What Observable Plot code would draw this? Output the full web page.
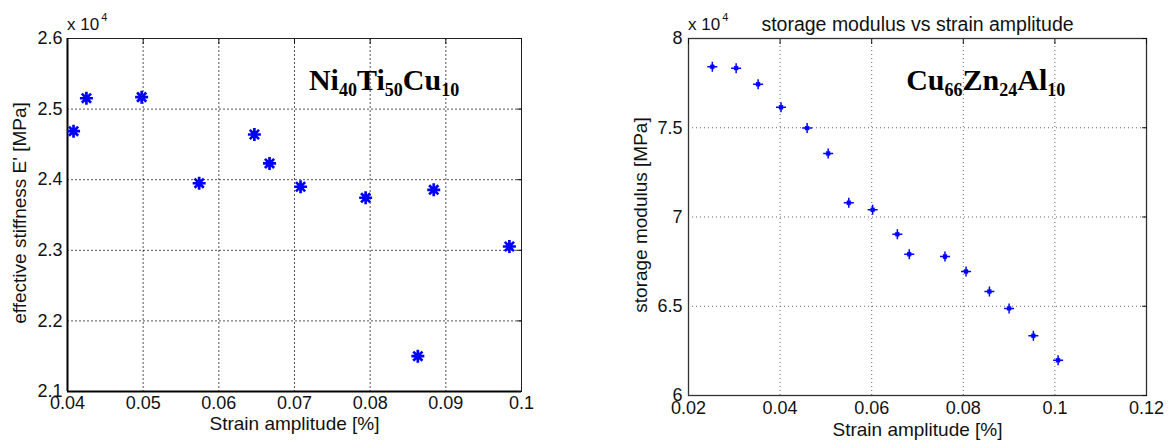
<!DOCTYPE html>
<html>
<head>
<meta charset="utf-8">
<script src="https://cdn.jsdelivr.net/npm/d3@7"></script>
<script src="https://cdn.jsdelivr.net/npm/@observablehq/plot@0.6"></script>
<style>
  html, body { margin: 0; padding: 0; background: #fff; }
  #wrap { position: relative; width: 1171px; height: 446px; overflow: hidden; }
  #left { position: absolute; left: 0; top: 0; }
  #right { position: absolute; left: 585px; top: 0; }
</style>
</head>
<body>
<div id="wrap"><div id="left"></div><div id="right"></div></div>
<script>
// ---- Left panel data (Ni40Ti50Cu10) ----
const leftStrain = [0.0408, 0.0425, 0.0498, 0.0574, 0.0647, 0.0667, 0.0708, 0.0794, 0.0884, 0.0984, 0.0863];
const leftStiffness = [24687, 25154, 25169, 23950, 24640, 24230, 23900, 23744, 23857, 23054, 21500];
const leftXTicks = [0.04, 0.05, 0.06, 0.07, 0.08, 0.09, 0.1];
const leftXLabels = ["0.04", "0.05", "0.06", "0.07", "0.08", "0.09", "0.1"];
const leftYTicks = [21000, 22000, 23000, 24000, 25000, 26000];
const leftYLabels = ["2.1", "2.2", "2.3", "2.4", "2.5", "2.6"];
const leftAlloy = [{base: "Ni", sub: "40"}, {base: "Ti", sub: "50"}, {base: "Cu", sub: "10"}];
const leftAlloyPos = [0.0819, 25263];

// ---- Right panel data (Cu66Zn24Al10) ----
const rightStrain = [0.0252, 0.0304, 0.0352, 0.0402, 0.0459, 0.0505, 0.0550, 0.0602, 0.0656, 0.0682, 0.0760, 0.0806, 0.0857, 0.0900, 0.0953, 0.1007];
const rightModulus = [78420, 78340, 77440, 76150, 74980, 73560, 70800, 70410, 69030, 67910, 67790, 66950, 65830, 64880, 63350, 61970];
const rightXTicks = [0.02, 0.04, 0.06, 0.08, 0.1, 0.12];
const rightXLabels = ["0.02", "0.04", "0.06", "0.08", "0.1", "0.12"];
const rightYTicks = [60000, 65000, 70000, 75000, 80000];
const rightYLabels = ["6", "6.5", "7", "7.5", "8"];
const rightAlloy = [{base: "Cu", sub: "66"}, {base: "Zn", sub: "24"}, {base: "Al", sub: "10"}];
const rightAlloyPos = [0.0850, 77090];

const FONT = "Liberation Sans, Arial, sans-serif";
const fmt = (ticks, labels) => d => labels[ticks.findIndex(t => Math.abs(t - d) < 1e-9)] ?? "";

function star(diagScale) {
  return {
    draw(ctx, size) {
      const r = Math.sqrt(size / Math.PI);
      const q = r * diagScale / Math.SQRT2;
      ctx.moveTo(-r, 0); ctx.lineTo(r, 0);
      ctx.moveTo(0, -r); ctx.lineTo(0, r);
      ctx.moveTo(-q, -q); ctx.lineTo(q, q);
      ctx.moveTo(-q, q); ctx.lineTo(q, -q);
    }
  };
}

function addExtras(svg, cfg) {
  const sx = svg.scale("x"), sy = svg.scale("y");
  const s = d3.select(svg);
  // x 10^4 multiplier
  const m = s.append("text")
    .attr("x", cfg.ml).attr("y", cfg.mt - 8)
    .attr("text-anchor", "start")
    .attr("font-family", FONT).attr("font-size", 17).attr("fill", "#111");
  m.append("tspan").text("x 10");
  m.append("tspan").attr("font-size", 11).attr("dy", -9).attr("dx", 2).text("4");
  // alloy annotation
  const t = s.append("text")
    .attr("x", sx.apply(cfg.pos[0])).attr("y", sy.apply(cfg.pos[1]))
    .attr("text-anchor", "middle")
    .attr("font-family", "Liberation Serif, Times New Roman, serif").attr("font-weight", "bold")
    .attr("font-size", 30).attr("fill", "#000");
  cfg.alloy.forEach((p, i) => {
    t.append("tspan").attr("font-size", 30).attr("dy", i === 0 ? 0 : -6).text(p.base);
    t.append("tspan").attr("font-size", 18).attr("dy", 6).text(p.sub);
  });
}

// ---------- Left chart ----------
{
  const ml = 67, mt = 38;
  const data = leftStrain.map((x, i) => ({x, y: leftStiffness[i]}));
  const chart = Plot.plot({
    width: 560, height: 446,
    marginLeft: ml, marginRight: 39, marginTop: mt, marginBottom: 55,
    style: {fontFamily: FONT, fontSize: "18px", color: "#111", background: "#fff"},
    x: {domain: [0.04, 0.1]},
    y: {domain: [21000, 26000]},
    marks: [
      Plot.gridX(leftXTicks, {stroke: "#000", strokeOpacity: 0.85, strokeDasharray: "2,2", strokeWidth: 0.8}),
      Plot.gridY(leftYTicks, {stroke: "#000", strokeOpacity: 0.85, strokeDasharray: "2,2", strokeWidth: 0.8}),
      Plot.frame({stroke: "#222", strokeWidth: 1}),
      Plot.ruleX([0.04], {stroke: "#000", strokeWidth: 2}),
      Plot.ruleY([21000], {stroke: "#000", strokeWidth: 2}),
      Plot.axisX({ticks: leftXTicks, tickFormat: fmt(leftXTicks, leftXLabels), tickSize: 0, tickPadding: 5, label: null, fontSize: 18}),
      Plot.axisY({ticks: leftYTicks, tickFormat: fmt(leftYTicks, leftYLabels), tickSize: 0, tickPadding: 5, label: null, fontSize: 18}),
      Plot.axisX({anchor: "top", ticks: leftXTicks, tickFormat: () => "", tickSize: -5, label: null}),
      Plot.axisY({anchor: "right", ticks: leftYTicks, tickFormat: () => "", tickSize: -5, label: null}),
      Plot.text(["Strain amplitude [%]"], {frameAnchor: "bottom", textAnchor: "middle", dy: 38, fontSize: 19, fill: "#111"}),
      Plot.text(["effective stiffness E' [MPa]"], {frameAnchor: "left", textAnchor: "middle", rotate: -90, dx: -48, dy: -2, fontSize: 19, fill: "#111"}),
      Plot.dot(data, {x: "x", y: "y", symbol: star(1), r: 6.5, fill: "none", stroke: "#0000ff", strokeWidth: 2.7})
    ]
  });
  document.getElementById("left").append(chart);
  addExtras(chart, {ml, mt, alloy: leftAlloy, pos: leftAlloyPos});
}

// ---------- Right chart ----------
{
  const ml = 103, mt = 38;
  const data = rightStrain.map((x, i) => ({x, y: rightModulus[i]}));
  const chart = Plot.plot({
    width: 586, height: 446,
    marginLeft: ml, marginRight: 25, marginTop: mt, marginBottom: 51,
    style: {fontFamily: FONT, fontSize: "18px", color: "#111", background: "#fff"},
    x: {domain: [0.02, 0.12]},
    y: {domain: [60000, 80000]},
    marks: [
      Plot.gridX(rightXTicks, {stroke: "#555", strokeOpacity: 0.9, strokeDasharray: "1,3", strokeWidth: 1}),
      Plot.gridY(rightYTicks, {stroke: "#555", strokeOpacity: 0.9, strokeDasharray: "1,3", strokeWidth: 1}),
      Plot.frame({stroke: "#333", strokeWidth: 1.3}),
      Plot.axisX({ticks: rightXTicks, tickFormat: fmt(rightXTicks, rightXLabels), tickSize: 0, tickPadding: 6, label: null, fontSize: 18}),
      Plot.axisY({ticks: rightYTicks, tickFormat: fmt(rightYTicks, rightYLabels), tickSize: 0, tickPadding: 6, label: null, fontSize: 18}),
      Plot.axisX({anchor: "top", ticks: rightXTicks, tickFormat: () => "", tickSize: -5, label: null}),
      Plot.axisY({anchor: "right", ticks: rightYTicks, tickFormat: () => "", tickSize: -5, label: null}),
      Plot.text(["Strain amplitude [%]"], {frameAnchor: "bottom", textAnchor: "middle", dy: 40, fontSize: 19, fill: "#111"}),
      Plot.text(["storage modulus [MPa]"], {frameAnchor: "left", textAnchor: "middle", rotate: -90, dx: -48, dy: -2, fontSize: 19, fill: "#111"}),
      Plot.text(["storage modulus vs strain amplitude"], {frameAnchor: "top", textAnchor: "middle", dy: -21, fontSize: 19.5, fill: "#111"}),
      Plot.dot(data, {x: "x", y: "y", symbol: star(0.55), r: 5, fill: "none", stroke: "#0000ff", strokeWidth: 1.5})
    ]
  });
  document.getElementById("right").append(chart);
  addExtras(chart, {ml, mt, alloy: rightAlloy, pos: rightAlloyPos});
}
</script>
</body>
</html>
